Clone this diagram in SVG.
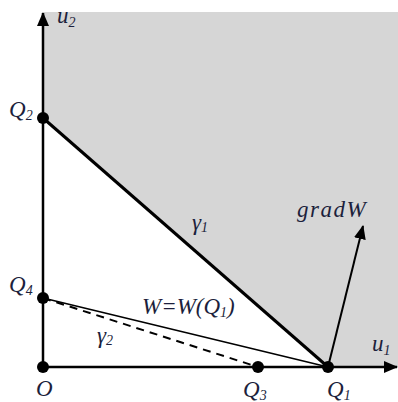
<svg xmlns="http://www.w3.org/2000/svg" width="398" height="402" viewBox="0 0 398 402">
<defs>
<style>
.lbl{font-family:"Liberation Serif","Times New Roman",serif;font-style:italic;font-size:23px;fill:#1c1f3c}
.sub{font-size:14px}
.ax{stroke:#000;stroke-width:2.5;fill:none}
.dot{fill:#000}
</style>
<marker id="ah" viewBox="0 0 14 12" refX="13" refY="6" markerWidth="14" markerHeight="12" markerUnits="userSpaceOnUse" orient="auto">
<path d="M0,0 L14,6 L0,12 Z" fill="#000"/>
</marker>
</defs>
<rect width="398" height="402" fill="#fff"/>
<polygon id="region" points="44,12 398,12 398,367 328,367 43,118" fill="#d6d6d6"/>
<g id="connectors">
<line class="ax" x1="43" y1="367" x2="43" y2="13" marker-end="url(#ah)"/>
<line class="ax" x1="43" y1="367" x2="397" y2="367" marker-end="url(#ah)"/>
<line x1="43" y1="118" x2="328" y2="367" stroke="#000" stroke-width="3"/>
<line x1="43" y1="298" x2="328" y2="367" stroke="#000" stroke-width="1.6"/>
<line x1="43" y1="298" x2="258" y2="367" stroke="#000" stroke-width="2" stroke-dasharray="8,6"/>
<line x1="328" y1="367" x2="363" y2="226" stroke="#000" stroke-width="2" marker-end="url(#ah)"/>
</g>
<g id="Q2"><circle class="dot" cx="43" cy="118" r="6"/><text class="lbl" x="9" y="117">Q<tspan class="sub" dy="3">2</tspan></text></g>
<g id="Q4"><circle class="dot" cx="43" cy="298" r="6"/><text class="lbl" x="9" y="292">Q<tspan class="sub" dy="3">4</tspan></text></g>
<g id="O"><circle class="dot" cx="43" cy="367" r="6"/><text class="lbl" x="36" y="396">O</text></g>
<g id="Q3"><circle class="dot" cx="258" cy="367" r="6"/><text class="lbl" x="243" y="397">Q<tspan class="sub" dy="3">3</tspan></text></g>
<g id="Q1"><circle class="dot" cx="328" cy="367" r="6"/><text class="lbl" x="327" y="397">Q<tspan class="sub" dy="3">1</tspan></text></g>
<g id="labels">
<text class="lbl" x="57" y="23">u<tspan class="sub" dy="4">2</tspan></text>
<text class="lbl" x="372" y="351">u<tspan class="sub" dy="4">1</tspan></text>
<text class="lbl" x="192" y="230">γ<tspan class="sub" dy="2">1</tspan></text>
<text class="lbl" x="97" y="343">γ<tspan class="sub" dy="2">2</tspan></text>
<text class="lbl" x="297" y="217" letter-spacing="1.5">gradW</text>
<text class="lbl" x="142" y="314">W=W(Q<tspan class="sub" dy="3">1</tspan><tspan dy="-3">)</tspan></text>
</g>
</svg>
